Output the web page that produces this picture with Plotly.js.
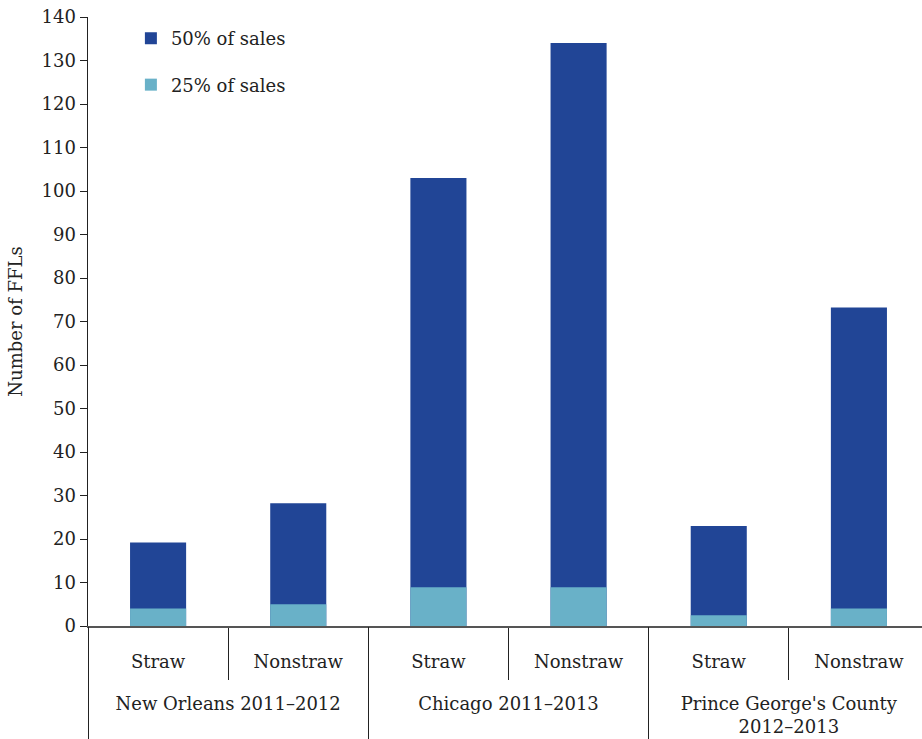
<!DOCTYPE html>
<html>
<head>
<meta charset="utf-8">
<script src="https://cdn.plot.ly/plotly-3.0.1.min.js"></script>
<style>html,body{margin:0;padding:0;background:#fff;overflow:hidden}#chart{width:929px;height:739px}</style>
</head>
<body>
<div id="chart"></div>
<script>
const groupNames = ["New Orleans 2011–2012", "Chicago 2011–2013", "Prince George's County<br>2012–2013"];
const groupOf = [0, 0, 1, 1, 2, 2];
const subs = ["Straw","Nonstraw","Straw","Nonstraw","Straw","Nonstraw"];
const sales50 = [19.2, 28.2, 103, 134, 23, 73.2];
const sales25 = [4, 5, 8.9, 8.9, 2.5, 4];
const seriesNames = ["50% of sales", "25% of sales"];

// derived positions (category indices)
const idx = subs.map((_, i) => i);
const subBounds = [-0.5].concat(idx.map(i => i + 0.5));
const groupCenters = groupNames.map((_, g) => {
  const m = idx.filter(i => groupOf[i] === g);
  return (m[0] + m[m.length - 1]) / 2;
});
const groupBounds = [-0.5];
idx.forEach(i => { if (i === idx.length - 1 || groupOf[i + 1] !== groupOf[i]) groupBounds.push(i + 0.5); });
const range = [-0.5, idx.length - 0.5];

const font = "DejaVu Serif, Liberation Serif, serif";
const ink = '#222';
const traces = [
  {type:'bar', name:seriesNames[0], legendgroup:'a', x:idx, y:sales50, xaxis:'x', yaxis:'y', marker:{color:'#214596'}, width:0.4, hoverinfo:'y'},
  {type:'bar', name:seriesNames[1], legendgroup:'b', x:idx, y:sales25, xaxis:'x2', yaxis:'y', marker:{color:'#69b1c8'}, width:0.4, hoverinfo:'y'}
];
const layout = {
  width:929, height:739,
  margin:{l:88, r:0, t:17, b:113},
  barmode:'overlay',
  paper_bgcolor:'#fff', plot_bgcolor:'#fff',
  font:{family:font, size:18, color:ink},
  showlegend:true,
  legend:{x:0.051, y:0.995, xanchor:'left', yanchor:'top', bgcolor:'rgba(0,0,0,0)', font:{size:18, family:font, color:ink}, traceorder:'grouped', tracegroupgap:20},
  xaxis:{
    range:range, tickmode:'array', tickvals:idx, ticktext:subs, ticks:'',
    showline:true, linecolor:'#555', linewidth:2,
    ticklabelstandoff:18,
    minor:{tickmode:'array', tickvals:subBounds, ticks:'outside', ticklen:52, tickcolor:ink, tickwidth:1, showgrid:false},
    tickfont:{size:18, family:font, color:ink},
    showgrid:false, zeroline:false, fixedrange:true
  },
  xaxis2:{
    overlaying:'x', anchor:'y', side:'bottom',
    range:range, tickmode:'array', tickvals:groupCenters, ticktext:groupNames, ticks:'',
    showline:false, ticklabelstandoff:65,
    minor:{tickmode:'array', tickvals:groupBounds, ticks:'outside', ticklen:113, tickcolor:ink, tickwidth:1, showgrid:false},
    tickfont:{size:18, family:font, color:ink},
    showgrid:false, zeroline:false, fixedrange:true
  },
  yaxis:{
    range:[0,140], dtick:10,
    showline:true, linecolor:ink, linewidth:1.5,
    ticks:'outside', ticklen:7, tickcolor:ink,
    showgrid:false, zeroline:false,
    tickfont:{size:18, family:font, color:ink},
    title:{text:'Number of FFLs', font:{size:18, family:font, color:ink}, standoff:14}
  }
};
Plotly.newPlot('chart', traces, layout, {displayModeBar:false, staticPlot:true});
</script>
</body>
</html>
